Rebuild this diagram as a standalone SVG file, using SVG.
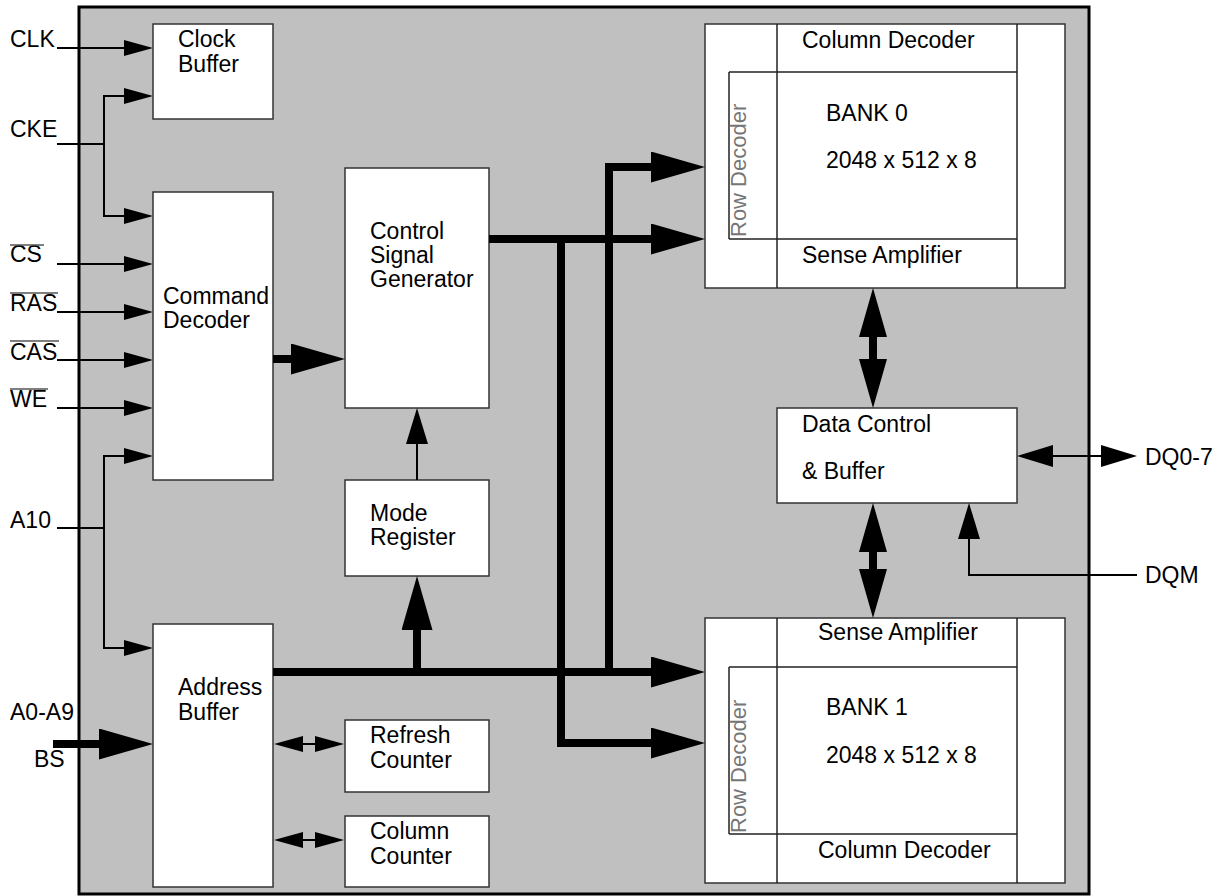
<svg xmlns="http://www.w3.org/2000/svg" width="1222" height="896" viewBox="0 0 1222 896">
<style>
  text { font-family: "Liberation Sans", Arial, sans-serif; font-size: 23px; fill: #000; }
  .blk { fill: #fff; stroke: #333; stroke-width: 1.5; }
  .ln { fill: none; stroke: #222; stroke-width: 1.5; }
  .thin { fill: none; stroke: #000; stroke-width: 2; }
  .bus { fill: none; stroke: #000; stroke-width: 8; stroke-linejoin: miter; }
  .ov { stroke: #555; stroke-width: 1.5; }
  .rd { fill: #767676; font-size: 22px; }
</style>
<defs>
  <marker id="a" markerUnits="userSpaceOnUse" viewBox="0 -8 29 16" refX="0" refY="0" markerWidth="29" markerHeight="16" orient="auto-start-reverse">
    <path d="M0,-8 L29,0 L0,8 z" fill="#000"/>
  </marker>
  <marker id="m" markerUnits="userSpaceOnUse" viewBox="0 -11 36 22" refX="0" refY="0" markerWidth="36" markerHeight="22" orient="auto-start-reverse">
    <path d="M0,-11 L36,0 L0,11 z" fill="#000"/>
  </marker>
  <marker id="b" markerUnits="userSpaceOnUse" viewBox="0 -15.5 54 31" refX="0" refY="0" markerWidth="54" markerHeight="31" orient="auto-start-reverse">
    <path d="M0,-15.5 L54,0 L0,15.5 z" fill="#000"/>
  </marker>
  <marker id="d" markerUnits="userSpaceOnUse" viewBox="0 -14 49 28" refX="0" refY="0" markerWidth="49" markerHeight="28" orient="auto-start-reverse">
    <path d="M0,-14 L49,0 L0,14 z" fill="#000"/>
  </marker>
</defs>

<rect id="chip" x="79" y="7" width="1010" height="887" fill="#c0c0c0" stroke="#000" stroke-width="3"/>

<g id="pins">
  <text x="10" y="47">CLK</text>
  <text x="10" y="137">CKE</text>
  <text x="10" y="262">CS</text>
  <line class="ov" x1="10" y1="245" x2="44" y2="245"/>
  <text x="10" y="311">RAS</text>
  <line class="ov" x1="10" y1="293" x2="58" y2="293"/>
  <text x="10" y="360">CAS</text>
  <line class="ov" x1="10" y1="341" x2="59" y2="341"/>
  <text x="10" y="407">WE</text>
  <line class="ov" x1="10" y1="389" x2="48" y2="389"/>
  <text x="10" y="528">A10</text>
  <text x="10" y="720">A0-A9</text>
  <text x="34" y="767">BS</text>
  <text x="1145" y="465">DQ0-7</text>
  <text x="1145" y="583">DQM</text>
</g>

<g id="clock-buffer">
  <rect class="blk" x="153" y="24" width="120" height="95"/>
  <text x="178" y="47">Clock</text>
  <text x="178" y="72">Buffer</text>
</g>

<g id="command-decoder">
  <rect class="blk" x="153" y="192" width="120" height="288"/>
  <text x="163" y="304">Command</text>
  <text x="163" y="328">Decoder</text>
</g>

<g id="address-buffer">
  <rect class="blk" x="153" y="624" width="120" height="263"/>
  <text x="178" y="695">Address</text>
  <text x="178" y="720">Buffer</text>
</g>

<g id="control-signal-generator">
  <rect class="blk" x="345" y="168" width="144" height="240"/>
  <text x="370" y="239">Control</text>
  <text x="370" y="263">Signal</text>
  <text x="370" y="287">Generator</text>
</g>

<g id="mode-register">
  <rect class="blk" x="345" y="480" width="144" height="96"/>
  <text x="370" y="521">Mode</text>
  <text x="370" y="545">Register</text>
</g>

<g id="refresh-counter">
  <rect class="blk" x="345" y="720" width="144" height="72"/>
  <text x="370" y="743">Refresh</text>
  <text x="370" y="768">Counter</text>
</g>

<g id="column-counter">
  <rect class="blk" x="345" y="816" width="144" height="71"/>
  <text x="370" y="839">Column</text>
  <text x="370" y="864">Counter</text>
</g>

<g id="bank0">
  <rect class="blk" x="705" y="24" width="360" height="264"/>
  <line class="ln" x1="777" y1="24" x2="777" y2="288"/>
  <line class="ln" x1="1017" y1="24" x2="1017" y2="288"/>
  <line class="ln" x1="729" y1="72" x2="1017" y2="72"/>
  <line class="ln" x1="729" y1="239" x2="1017" y2="239"/>
  <line class="ln" x1="729" y1="72" x2="729" y2="239"/>
  <text x="802" y="48">Column Decoder</text>
  <text x="826" y="121">BANK 0</text>
  <text x="826" y="168">2048 x 512 x 8</text>
  <text x="802" y="263">Sense Amplifier</text>
  <text class="rd" transform="translate(746,237) rotate(-90)">Row Decoder</text>
</g>

<g id="bank1">
  <rect class="blk" x="705" y="618" width="360" height="265"/>
  <line class="ln" x1="777" y1="618" x2="777" y2="883"/>
  <line class="ln" x1="1017" y1="618" x2="1017" y2="883"/>
  <line class="ln" x1="729" y1="667" x2="1017" y2="667"/>
  <line class="ln" x1="729" y1="834" x2="1017" y2="834"/>
  <line class="ln" x1="729" y1="667" x2="729" y2="834"/>
  <text x="818" y="640">Sense Amplifier</text>
  <text x="826" y="715">BANK 1</text>
  <text x="826" y="763">2048 x 512 x 8</text>
  <text x="818" y="858">Column Decoder</text>
  <text class="rd" transform="translate(746,833) rotate(-90)">Row Decoder</text>
</g>

<g id="data-control">
  <rect class="blk" x="777" y="408" width="240" height="95"/>
  <text x="802" y="432">Data Control</text>
  <text x="802" y="479">&amp; Buffer</text>
</g>

<g id="connectors">
  <path class="thin" d="M57,48 H124" marker-end="url(#a)"/>
  <path class="thin" d="M57,144 H104"/>
  <path class="thin" d="M104,144 V96 H124" marker-end="url(#a)"/>
  <path class="thin" d="M104,144 V216 H124" marker-end="url(#a)"/>
  <path class="thin" d="M57,264 H124" marker-end="url(#a)"/>
  <path class="thin" d="M57,312 H124" marker-end="url(#a)"/>
  <path class="thin" d="M57,360 H124" marker-end="url(#a)"/>
  <path class="thin" d="M57,408 H124" marker-end="url(#a)"/>
  <path class="thin" d="M57,528 H104"/>
  <path class="thin" d="M104,528 V456 H124" marker-end="url(#a)"/>
  <path class="thin" d="M104,528 V648 H124" marker-end="url(#a)"/>
  <path class="bus" d="M53,744 H99" marker-end="url(#b)"/>
  <path class="bus" d="M273,359 H291" marker-end="url(#b)"/>
  <path class="bus" d="M489,239 H651" marker-end="url(#b)"/>
  <path class="bus" d="M561,235 V743 H651" marker-end="url(#b)"/>
  <path class="bus" d="M273,672 H651" marker-end="url(#b)"/>
  <path class="bus" d="M609,676 V167 H651" marker-end="url(#b)"/>
  <path class="bus" d="M417,672 V630" marker-end="url(#b)"/>
  <path class="thin" d="M417,480 V444" marker-end="url(#m)"/>
  <path class="thin" d="M303,744 H315" marker-start="url(#a)" marker-end="url(#a)"/>
  <path class="thin" d="M303,840 H315" marker-start="url(#a)" marker-end="url(#a)"/>
  <path class="bus" d="M873,337 V359" marker-start="url(#d)" marker-end="url(#d)"/>
  <path class="bus" d="M873,552 V569" marker-start="url(#d)" marker-end="url(#d)"/>
  <path class="thin" d="M1053,456 H1101" marker-start="url(#m)" marker-end="url(#m)"/>
  <path class="thin" d="M1137,575 H969 V539" marker-end="url(#m)"/>
</g>
</svg>
